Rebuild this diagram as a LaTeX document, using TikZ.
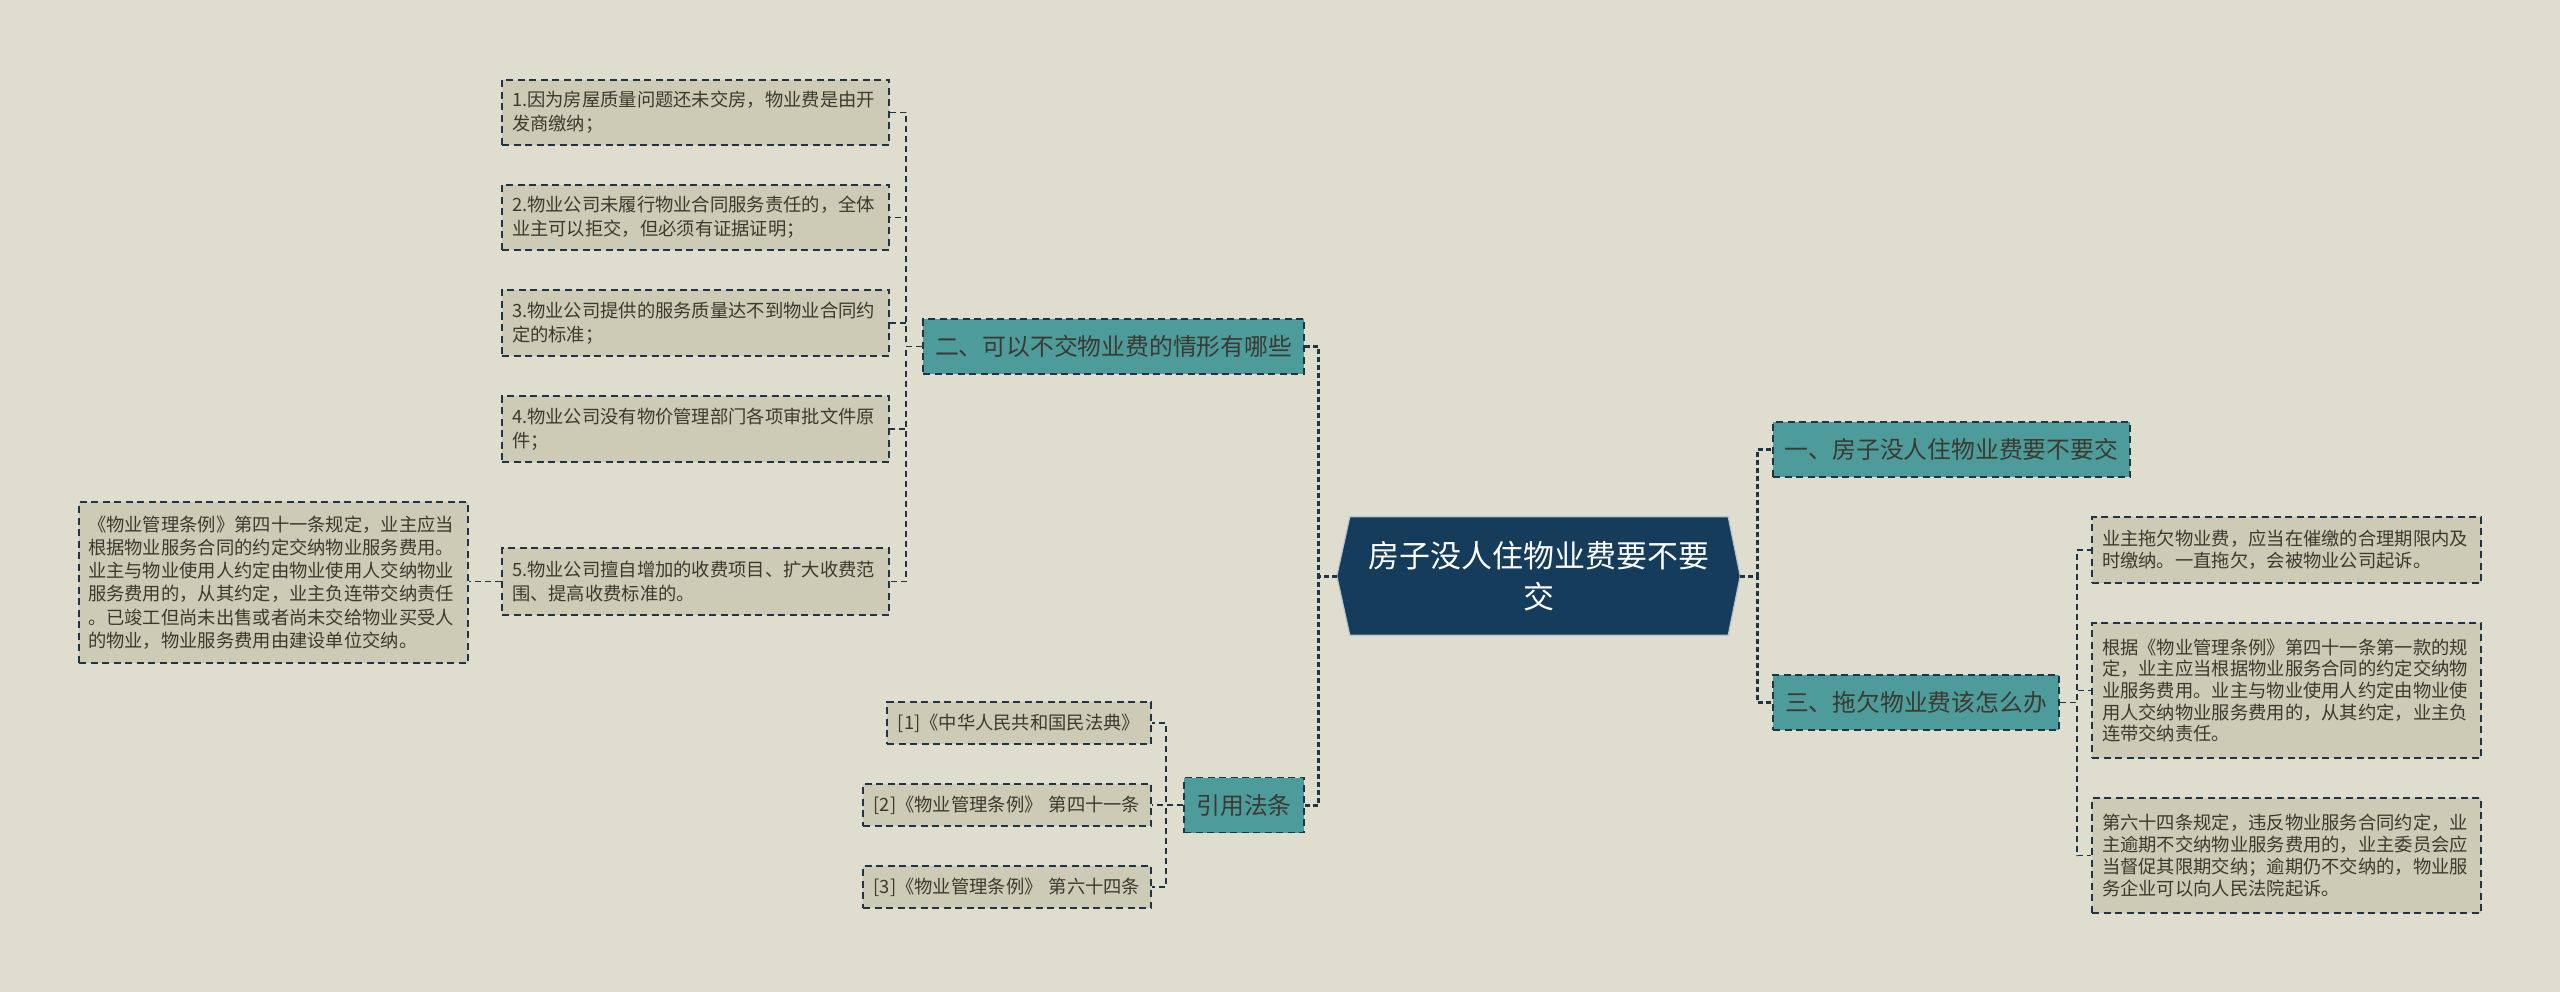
\documentclass[tikz,border=0pt]{standalone}
\usepackage{fontspec}
\setmainfont{Noto Sans CJK SC}
\usetikzlibrary{calc,backgrounds}
\definecolor{bgcol}{HTML}{DEDDCE}
\definecolor{leafcol}{HTML}{CDCBB5}
\definecolor{tealcol}{HTML}{4E9B9B}
\definecolor{navycol}{HTML}{163C5C}
\definecolor{bordcol}{HTML}{1E3447}
\definecolor{txtcol}{HTML}{3A3A30}
\begin{document}
\begin{tikzpicture}[x=1pt,y=-1pt,
  boxline/.style={draw=bordcol, line width=1.8pt, dash pattern=on 7pt off 4.5pt},
  leafL/.style={boxline, fill=leafcol, text=txtcol, font=\fontsize{18.3}{24}\selectfont, align=left, inner xsep=10pt, inner ysep=0pt, anchor=center},
  leafR/.style={boxline, fill=leafcol, text=txtcol, font=\fontsize{18.3}{21.7}\selectfont, align=left, inner xsep=10pt, inner ysep=0pt, anchor=center, text width=369pt},
  branch/.style={boxline, fill=tealcol, text=txtcol, font=\fontsize{23.8}{28}\selectfont, inner xsep=0pt, inner ysep=0pt, minimum height=55pt, anchor=center},
  rootbox/.style={text=white, font=\fontsize{31}{41}\selectfont, align=center, inner sep=0pt, minimum width=378pt, minimum height=118pt, text width=378pt},
  Lone/.style={draw=bordcol, line width=3pt, dash pattern=on 5pt off 3pt},
  Ltwo/.style={draw=bordcol, line width=1.5pt, dash pattern=on 6pt off 4pt}
]
\begin{pgfonlayer}{background}
\fill[bgcol] (0,0) rectangle (2560,992);
\end{pgfonlayer}
\useasboundingbox (0,0) rectangle (2560,992);

% root
\node[rootbox] (root) at (1539,576) {房子没人住物业费要不要\\交};
\coordinate (rootW) at ($(root.west)+(-13,0)$);
\coordinate (rootE) at ($(root.east)+(12,0)$);
\begin{pgfonlayer}{background}
\fill[navycol, draw=white!70!navycol, line width=1.2pt] (root.north west) -- (root.north east) -- (rootE) -- (root.south east) -- (root.south west) -- (rootW) -- cycle;
\end{pgfonlayer}

% left branches
\node[branch, minimum width=381pt] (b2) at (1113.5,346.5) {二、可以不交物业费的情形有哪些};
\node[branch, minimum width=120pt] (law) at (1244,805) {引用法条};

% right branches
\node[branch, minimum width=357pt] (b1) at (1951.5,449.5) {一、房子没人住物业费要不要交};
\node[branch, minimum width=286pt] (b3) at (1916,702.5) {三、拖欠物业费该怎么办};

% b2 children
\node[leafL, text width=367pt, minimum height=65pt] (c1) at (695.5,112.5) {1.因为房屋质量问题还未交房，物业费是由开\\发商缴纳；};
\node[leafL, text width=367pt, minimum height=65pt] (c2) at (695.5,217.5) {2.物业公司未履行物业合同服务责任的，全体\\业主可以拒交，但必须有证据证明；};
\node[leafL, text width=367pt, minimum height=66pt] (c3) at (695.5,323) {3.物业公司提供的服务质量达不到物业合同约\\定的标准；};
\node[leafL, text width=367pt, minimum height=66pt] (c4) at (695.5,429) {4.物业公司没有物价管理部门各项审批文件原\\件；};
\node[leafL, text width=367pt, minimum height=67pt] (c5) at (695.5,581.5) {5.物业公司擅自增加的收费项目、扩大收费范\\围、提高收费标准的。};
\node[leafL, text width=371pt, inner xsep=9pt, minimum height=161pt, font=\fontsize{18.3}{23.3}\selectfont] (big) at (273.5,582.5) {《物业管理条例》第四十一条规定，业主应当\\根据物业服务合同的约定交纳物业服务费用。\\业主与物业使用人约定由物业使用人交纳物业\\服务费用的，从其约定，业主负连带交纳责任\\。已竣工但尚未出售或者尚未交给物业买受人\\的物业，物业服务费用由建设单位交纳。};

% law children
\node[leafL, align=center, text width=244pt, minimum height=42pt] (r1) at (1019,723) {[1]《中华人民共和国民法典》};
\node[leafL, align=center, text width=268pt, minimum height=42pt] (r2) at (1007,805) {[2]《物业管理条例》 第四十一条};
\node[leafL, align=center, text width=268pt, minimum height=42pt] (r3) at (1007,887) {[3]《物业管理条例》 第六十四条};

% b3 children
\node[leafR, minimum height=66pt] (ra) at (2286.5,550) {业主拖欠物业费，应当在催缴的合理期限内及\\时缴纳。一直拖欠，会被物业公司起诉。};
\node[leafR, minimum height=135pt] (rb) at (2286.5,690.5) {根据《物业管理条例》第四十一条第一款的规\\定，业主应当根据物业服务合同的约定交纳物\\业服务费用。业主与物业使用人约定由物业使\\用人交纳物业服务费用的，从其约定，业主负\\连带交纳责任。};
\node[leafR, minimum height=115pt] (rc) at (2286.5,855.5) {第六十四条规定，违反物业服务合同约定，业\\主逾期不交纳物业服务费用的，业主委员会应\\当督促其限期交纳；逾期仍不交纳的，物业服\\务企业可以向人民法院起诉。};

% level-1 connectors
\draw[Lone] (rootW) -- ++(-18,0) |- (b2.east);
\draw[Lone] (rootW) -- ++(-18,0) |- (law.east);
\draw[Lone] (rootE) -- ++(17,0) |- (b1.west);
\draw[Lone] (rootE) -- ++(17,0) |- (b3.west);

% level-2 connectors
\foreach \c in {c1,c2,c3,c4,c5}{
  \draw[Ltwo] (b2.west) -- ++(-16,0) |- (\c.east);
}
\draw[Ltwo] (c5.west) -- (c5.west -| big.east);
\foreach \c in {r1,r2,r3}{
  \draw[Ltwo] (law.west) -- ++(-17,0) |- (\c.east);
}
\foreach \c in {ra,rb,rc}{
  \draw[Ltwo] (b3.east) -- ++(17,0) |- (\c.west);
}
\end{tikzpicture}
\end{document}
